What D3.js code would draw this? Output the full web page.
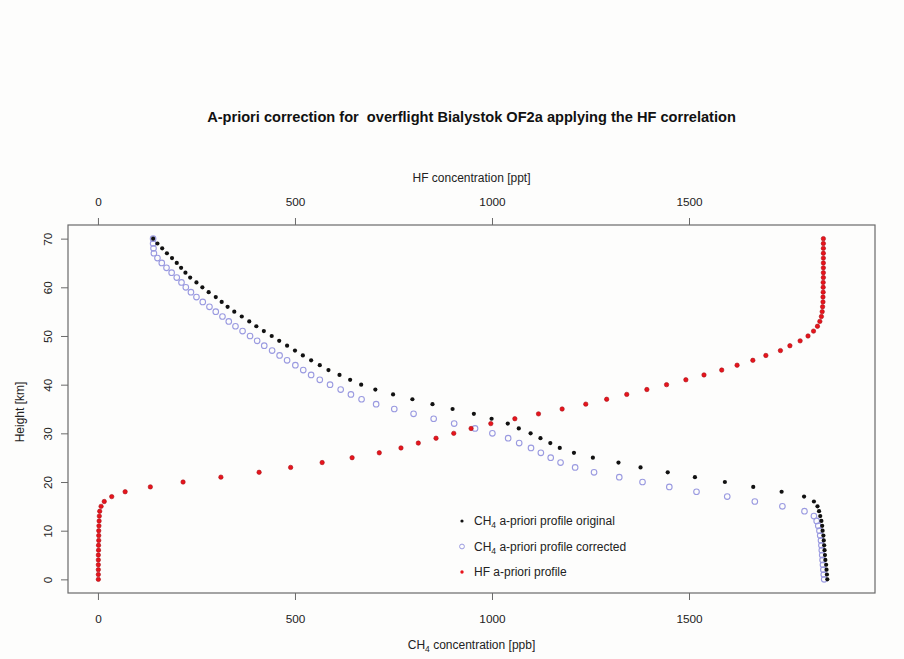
<!DOCTYPE html>
<html>
<head>
<meta charset="utf-8">
<script src="https://cdn.jsdelivr.net/npm/d3@7"></script>
<style>
  body { margin: 0; background: #fdfdfc; }
  svg { display: block; }
  text { font-family: "Liberation Sans", Arial, Helvetica, sans-serif; fill: #222; }
</style>
</head>
<body>
<svg id="chart" width="904" height="659"></svg>
<script>
// ---------- data ----------
const heights = d3.range(0, 71); // km, 0..70

const ch4Original = [1851,1850,1849,1848,1846,1845,1844,1843,1842,1841,
  1839,1838,1836,1833,1830,1826,1817,1792,1735,1663,
  1591,1515,1446,1377,1321,1256,1208,1172,1148,1123,
  1098,1068,1040,999,954,900,849,798,749,704,
  668,640,613,585,563,541,520,500,480,460,
  441,421,402,384,365,346,329,314,299,281,
  265,250,234,222,211,200,188,175,163,151,140];

const ch4Corrected = [1843,1842,1841,1840,1839,1838,1837,1836,1835,1833,
  1831,1828,1824,1817,1793,1737,1667,1597,1519,1450,
  1382,1323,1259,1211,1174,1149,1124,1099,1069,1041,
  1001,957,904,852,801,752,706,669,642,616,
  589,563,541,521,501,480,461,442,422,404,
  386,367,349,332,316,299,283,266,250,236,
  223,212,200,187,174,162,151,142,141,140,140];

const hfProfile = [1,1,1,1,1,1,1.5,1.5,2,2,
  2,2.5,3,3.5,4.5,8,16,35,69,133,
  216,312,409,489,569,645,714,769,813,858,
  903,947,997,1058,1118,1178,1238,1291,1342,1393,
  1443,1492,1538,1583,1622,1662,1695,1732,1756,1782,
  1802,1816,1826,1832,1836,1838,1839,1840,1840,1840.5,
  1840.5,1840.5,1841,1841,1841,1841,1841,1841,1841,1841,1841];

const xTicks = [0, 500, 1000, 1500];
const yTicks = [0, 10, 20, 30, 40, 50, 60, 70];

const titleText = "A-priori correction for\u00a0 overflight Bialystok OF2a applying the HF correlation";
const topAxisTitle = "HF concentration [ppt]";
const yAxisTitle = "Height [km]";
const legendItems = [
  {pre: "CH", sub: "4", post: " a-priori profile original", type: "orig"},
  {pre: "CH", sub: "4", post: " a-priori profile corrected", type: "corr"},
  {pre: "HF a-priori profile", sub: "", post: "", type: "hf"}
];

// ---------- layout ----------
const L = 68, R = 875, T = 225, B = 593;
const axisColor = "#6a6a6a";

const svg = d3.select("#chart");
const x = d3.scaleLinear().domain([-76, 1972]).range([L, R]);
const y = d3.scaleLinear().domain([-2.8, 72.8]).range([B, T]);

// title
svg.append("text").attr("x", 471.5).attr("y", 122)
  .attr("text-anchor", "middle").attr("font-weight", "bold")
  .attr("font-size", 14.6).style("fill", "#111")
  .text(titleText);

// box
svg.append("rect").attr("x", L).attr("y", T).attr("width", R - L).attr("height", B - T)
  .attr("fill", "none").attr("stroke", axisColor).attr("stroke-width", 1.2);

// axes
const fmt = d3.format("d");
const gBottom = svg.append("g").attr("transform", `translate(0,${B})`)
  .call(d3.axisBottom(x).tickValues(xTicks).tickFormat(fmt).tickSize(7).tickPadding(15));
const gTop = svg.append("g").attr("transform", `translate(0,${T})`)
  .call(d3.axisTop(x).tickValues(xTicks).tickFormat(fmt).tickSize(7).tickPadding(12));
const gLeft = svg.append("g").attr("transform", `translate(${L},0)`)
  .call(d3.axisLeft(y).tickValues(yTicks).tickFormat(fmt).tickSize(7));

[gBottom, gTop, gLeft].forEach(g => {
  g.select(".domain").remove();
  g.selectAll(".tick line").attr("stroke", axisColor).attr("stroke-width", 1);
  g.selectAll(".tick text").attr("font-size", 11.8).style("fill", "#222")
    .attr("font-family", '"Liberation Sans", Arial, sans-serif');
});
// rotate y tick labels (parallel to axis)
gLeft.selectAll(".tick text")
  .attr("x", null).attr("dy", null)
  .attr("text-anchor", "middle")
  .attr("transform", "translate(-16,0) rotate(-90)");

// axis titles
svg.append("text").attr("x", 471.5).attr("y", 182).attr("text-anchor", "middle")
  .attr("font-size", 12).text(topAxisTitle);
const bt = svg.append("text").attr("x", 471.5).attr("y", 649).attr("text-anchor", "middle")
  .attr("font-size", 12);
bt.append("tspan").text("CH");
bt.append("tspan").attr("font-size", 8.5).attr("dy", 3).text("4");
bt.append("tspan").attr("dy", -3).text(" concentration [ppb]");
svg.append("text").attr("transform", "translate(24,412) rotate(-90)")
  .attr("text-anchor", "middle").attr("font-size", 12).text(yAxisTitle);

// ---------- marks ----------
const plot = svg.append("g");
function drawSeries(vals, type) {
  const pts = heights.map((h, i) => ({h, v: vals[i]}));
  const sel = plot.append("g").selectAll("circle").data(pts).join("circle")
    .attr("cx", d => x(d.v)).attr("cy", d => y(d.h));
  if (type === "orig") sel.attr("r", 2.1).attr("fill", "#111");
  if (type === "corr") sel.attr("r", 2.8).attr("fill", "none").attr("stroke", "#9a9ae0").attr("stroke-width", 1.1);
  if (type === "hf") sel.attr("r", 2.2).attr("fill", "#e8141c").attr("stroke", "#a81018").attr("stroke-width", 0.6);
}
drawSeries(ch4Corrected, "corr");
drawSeries(ch4Original, "orig");
drawSeries(hfProfile, "hf");

// ---------- legend ----------
const lg = svg.append("g");
legendItems.forEach((it, i) => {
  const cy = 521 + i * 25.5;
  const mark = lg.append("circle").attr("cx", 462).attr("cy", cy);
  if (it.type === "orig") mark.attr("r", 1.6).attr("fill", "#111");
  if (it.type === "corr") mark.attr("r", 2.4).attr("fill", "none").attr("stroke", "#9a9ae0").attr("stroke-width", 1);
  if (it.type === "hf") mark.attr("r", 1.7).attr("fill", "#e8141c");
  const t = lg.append("text").attr("x", 474).attr("y", cy + 4).attr("font-size", 12);
  t.append("tspan").text(it.pre);
  if (it.sub) {
    t.append("tspan").attr("font-size", 8.5).attr("dy", 3).text(it.sub);
    t.append("tspan").attr("dy", -3).text(it.post);
  }
});
</script>
</body>
</html>
